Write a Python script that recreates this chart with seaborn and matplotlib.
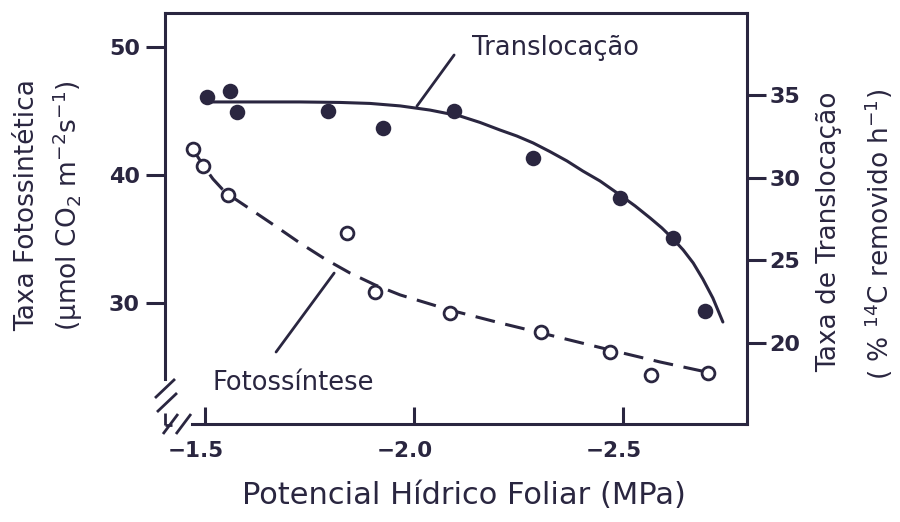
import numpy as np
import pandas as pd
import matplotlib
matplotlib.use("Agg")
import matplotlib.pyplot as plt
import matplotlib.transforms as mtransforms
import seaborn as sns
from matplotlib.lines import Line2D

# ---------------- data ----------------
# Translocation (filled dots, right axis)
trans_x = [-1.505, -1.560, -1.577, -1.794, -1.926, -2.096, -2.285, -2.493, -2.620, -2.696]
trans_y = [34.88, 35.24, 33.97, 34.03, 33.00, 34.03, 31.19, 28.77, 26.35, 21.93]
# fitted translocation trend (solid curve)
trans_curve_x = [-1.500, -1.727, -1.823, -1.895, -1.967, -2.038, -2.110, -2.158,
                 -2.206, -2.246, -2.285, -2.325, -2.366, -2.404, -2.445, -2.493,
                 -2.529, -2.565, -2.593, -2.620, -2.644, -2.668, -2.691, -2.715, -2.739]
trans_curve_y = [34.58, 34.58, 34.55, 34.49, 34.34, 34.09, 33.73, 33.34,
                 32.88, 32.52, 32.10, 31.58, 31.01, 30.40, 29.80, 28.95,
                 28.29, 27.56, 26.96, 26.29, 25.63, 24.84, 23.87, 22.72, 21.27]

# Photosynthesis (open circles, left axis)
photo_x = [-1.471, -1.495, -1.555, -1.840, -1.907, -2.086, -2.304, -2.469, -2.567, -2.703]
photo_y = [42.03, 40.70, 38.44, 35.47, 30.86, 29.22, 27.73, 26.17, 24.38, 24.53]
# fitted photosynthesis trend (dashed curve)
photo_curve_x = [-1.471, -1.495, -1.519, -1.541, -1.565, -1.608, -1.668, -1.727,
                 -1.787, -1.847, -1.907, -1.967, -2.086, -2.206, -2.304, -2.469,
                 -2.589, -2.711]
photo_curve_y = [42.03, 40.78, 39.69, 38.91, 38.28, 37.34, 36.02, 34.69,
                 33.44, 32.34, 31.41, 30.63, 29.45, 28.44, 27.66, 26.33,
                 25.39, 24.53]

x_ticks = [-1.5, -2.0, -2.5]
x_tick_labels = ["\u22121.5", "\u22122.0", "\u22122.5"]
left_ticks = [30, 40, 50]
right_ticks = [20, 25, 30, 35]

# ---------------- styling ----------------
sns.set_theme(style="ticks")
plt.rcParams["font.family"] = ["DejaVu Sans"]
plt.rcParams["mathtext.default"] = "regular"

INK = "#2a2640"
W, H = 900, 522

fig = plt.figure(figsize=(9, 5.22), dpi=100)
fig.patch.set_facecolor("white")
Lx, Rx, Ty, By = 165, 747, 13, 424
ax = fig.add_axes([Lx / W, 1 - By / H, (Rx - Lx) / W, (By - Ty) / H])
ax2 = ax.twinx()

# photosynthesis: dashed curve + open circles
sns.lineplot(x=photo_curve_x, y=photo_curve_y, ax=ax, color=INK, lw=2.2,
             sort=False, estimator=None)
ax.lines[-1].set_dashes([6.5, 3.5])
sns.scatterplot(x=photo_x, y=photo_y, ax=ax, s=85, color="white",
                edgecolor=INK, linewidth=2.0, zorder=3)

# translocation: solid curve + filled dots
sns.lineplot(x=trans_curve_x, y=trans_curve_y, ax=ax2, color=INK, lw=2.2,
             sort=False, estimator=None)
sns.scatterplot(x=trans_x, y=trans_y, ax=ax2, s=125, color=INK,
                edgecolor=INK, linewidth=0, zorder=3)

ax.set_xlim(-1.4043, -2.7967)
ax.set_ylim(20.547, 52.656)
ax2.set_ylim(15.10, 39.96)

ax.set_xlabel("")
ax.set_ylabel("")
ax2.set_ylabel("")

ax.set_xticks(x_ticks)
ax.set_xticklabels(x_tick_labels, fontweight="bold")
ax.set_yticks(left_ticks)
ax.set_yticklabels([str(v) for v in left_ticks], fontweight="bold")
ax2.set_yticks(right_ticks)
ax2.set_yticklabels([str(v) for v in right_ticks], fontweight="bold")

ax.tick_params(axis="x", direction="in", length=12, width=2.2, color=INK,
               labelsize=15.5, labelcolor=INK, pad=12)
ax.tick_params(axis="y", direction="out", length=14, width=2.2, color=INK,
               labelsize=16, labelcolor=INK, pad=4, right=False)
ax2.tick_params(axis="y", direction="out", length=14, width=2.2, color=INK,
                labelsize=16, labelcolor=INK, pad=2)

# x tick labels sit slightly left of their ticks in the reference
shift = mtransforms.ScaledTranslation(-0.09, 0, fig.dpi_scale_trans)
for lab in ax.get_xticklabels():
    lab.set_transform(lab.get_transform() + shift)

for a in (ax, ax2):
    for s in a.spines.values():
        s.set_linewidth(2.2)
        s.set_color(INK)
ax.spines["right"].set_visible(False)
ax2.spines["left"].set_visible(False)
ax2.spines["bottom"].set_visible(False)
ax2.spines["top"].set_visible(False)
ax.spines["bottom"].set_bounds(-1.469, -2.7967)
ax.spines["left"].set_bounds(24.06, 52.656)


def fpx(xp, yp):
    return xp / W, 1 - yp / H


# axis-break marks
for (x0, y0, x1, y1) in [(155, 398, 175, 379), (157, 412, 177, 393),
                         (163, 434, 178, 414), (176, 434, 191, 414),
                         (165, 413, 165, 425), (165, 425, 172, 425)]:
    a0, b0 = fpx(x0, y0)
    a1, b1 = fpx(x1, y1)
    fig.add_artist(Line2D([a0, a1], [b0, b1], transform=fig.transFigure,
                          color=INK, lw=2.0, solid_capstyle="butt"))

# annotations
ax2.annotate("", xy=(-2.007, 34.33), xytext=(-2.096, 37.42),
             arrowprops=dict(arrowstyle="-", color=INK, lw=2.0,
                             shrinkA=0, shrinkB=0))
ax2.text(-2.139, 37.84, "Translocação", ha="left", va="center",
         fontsize=18.5, color=INK)
ax.annotate("", xy=(-1.809, 32.34), xytext=(-1.670, 26.17),
            arrowprops=dict(arrowstyle="-", color=INK, lw=2.0,
                            shrinkA=0, shrinkB=0))
ax.text(-1.519, 23.75, "Fotossíntese", ha="left", va="center",
        fontsize=18.5, color=INK)

# axis titles
fig.text(*fpx(27, 205), "Taxa Fotossintética", rotation=90, ha="center",
         va="center", fontsize=19, color=INK)
fig.text(*fpx(68, 206), "(µmol CO$_2$ m$^{-2}$s$^{-1}$)", rotation=90,
         ha="center", va="center", fontsize=19, color=INK)
fig.text(*fpx(829, 232), "Taxa de Translocação", rotation=90, ha="center",
         va="center", fontsize=19, color=INK)
fig.text(*fpx(879, 234), "( % $^{14}$C removido h$^{-1}$)", rotation=90,
         ha="center", va="center", fontsize=19, color=INK)
fig.text(*fpx(464, 496), "Potencial Hídrico Foliar (MPa)", ha="center",
         va="center", fontsize=22, color=INK)

fig.savefig("out.png", dpi=100, facecolor="white")
